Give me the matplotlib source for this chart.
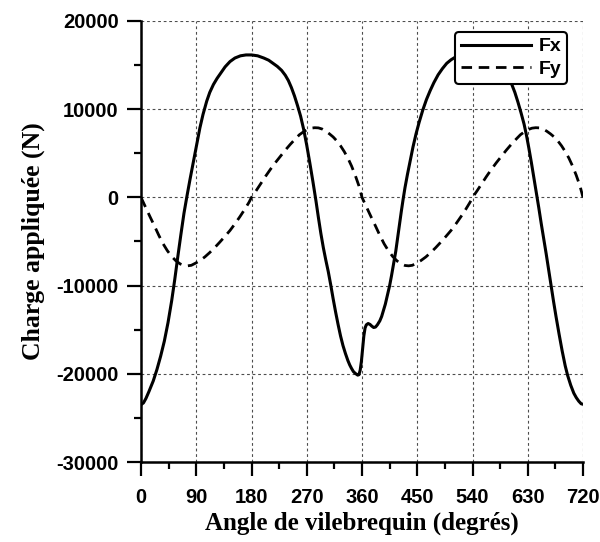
import numpy as np
import matplotlib
matplotlib.use("Agg")
import matplotlib.pyplot as plt

plt.rcParams["axes.unicode_minus"] = False

# valeurs (angle en degrés, charge en N)
angle_fx = [0, 4, 8, 13, 20, 26, 32, 38, 44, 50, 55, 60, 65, 70, 75, 80, 86, 91,
            96, 101, 107, 112, 118, 124, 130, 137, 145, 153, 162, 171, 180, 190,
            200, 208, 215, 222, 229, 235, 240, 245, 250, 255, 260, 265, 270, 275,
            280, 285, 289, 293, 297, 301, 305, 309, 313, 317, 321, 325, 329, 333,
            337, 340, 343, 346, 349, 351, 353, 355, 357, 359, 361, 363, 365, 367,
            370, 373, 376, 379, 382, 385, 389, 392, 395, 398, 401, 405, 408, 411,
            415, 418, 421, 424, 427, 430, 434, 438, 443, 448, 453, 459, 465, 471,
            477, 484, 491, 498, 505, 512, 520, 530, 540, 550, 560, 570, 580, 590,
            597, 604, 609, 614, 619, 624, 628, 632, 636, 640, 644, 648, 652, 656,
            660, 664, 668, 672, 676, 681, 686, 691, 695, 700, 705, 709, 713, 717,
            720]
fx = [-23500, -23300, -22800, -22000, -20800, -19500, -18000, -16300, -14200,
      -11700, -9300, -6700, -4200, -1800, 200, 2100, 4300, 6200, 7900, 9400,
      10900, 11900, 12800, 13500, 14100, 14800, 15400, 15800, 16050, 16150, 16150,
      16050, 15800, 15550, 15200, 14850, 14400, 13850, 13250, 12450, 11500,
      10400, 9200, 7700, 5900, 3900, 1800, -400, -2300, -4100, -5700, -7100,
      -8400, -9900, -11500, -13000, -14400, -15700, -16800, -17700, -18500,
      -19000, -19400, -19750, -19950, -20050, -20150, -20100, -19600, -18600,
      -17100, -15700, -14800, -14450, -14300, -14400, -14600, -14750, -14700,
      -14450, -14000, -13500, -12800, -12100, -11200, -10000, -8900, -7700,
      -6100, -4600, -3100, -1600, -200, 1100, 2600, 4000, 5700, 7200, 8500, 9900,
      11100, 12100, 13000, 13900, 14600, 15200, 15600, 15900, 16100, 16200, 16200,
      16100, 15900, 15600, 15100, 14400, 13700, 12800, 11900, 10800, 9600, 8300,
      7000, 5500, 3900, 2200, 500, -1200, -3000, -4700, -6400, -8200, -10000,
      -11800, -13500, -15500, -17400, -19100, -20200, -21300, -22200, -22700,
      -23100, -23400, -23450]

angle_fy = [0, 8, 15, 22, 29, 36, 43, 50, 57, 64, 70, 76, 82, 89, 96, 104, 112,
            120, 128, 137, 145, 153, 161, 169, 176, 180, 187, 195, 203, 211, 219,
            227, 235, 243, 251, 258, 265, 271, 277, 283, 289, 295, 301, 307, 313,
            319, 325, 331, 337, 343, 349, 355, 360, 368, 375, 382, 389, 396, 403,
            410, 417, 424, 430, 436, 442, 449, 456, 464, 472, 480, 488, 497, 505,
            513, 521, 529, 536, 540, 547, 555, 563, 571, 579, 587, 595, 603, 611,
            618, 625, 631, 637, 643, 649, 655, 661, 667, 673, 679, 685, 691, 697,
            703, 709, 715, 720]
fy = [0, -1200, -2240, -3250, -4300, -5260, -6050, -6700, -7200, -7550, -7720,
      -7760, -7700, -7450, -7160, -6750, -6250, -5700, -5100, -4400, -3750, -3000,
      -2200, -1350, -550, 0, 700, 1550, 2400, 3200, 3950, 4650, 5350, 6000, 6600,
      7100, 7450, 7700, 7850, 7900, 7880, 7750, 7500, 7200, 6850, 6400, 5850,
      5200, 4450, 3550, 2500, 1300, 0, -1200, -2240, -3250, -4300, -5260, -6050,
      -6700, -7200, -7550, -7720, -7760, -7700, -7450, -7160, -6750, -6250, -5700,
      -5100, -4400, -3750, -3000, -2200, -1350, -550, 0, 700, 1550, 2400, 3200,
      3950, 4650, 5350, 6000, 6600, 7100, 7450, 7700, 7850, 7900, 7880, 7750,
      7500, 7200, 6850, 6400, 5850, 5200, 4450, 3550, 2500, 1300, 0]

xticks = [0, 90, 180, 270, 360, 450, 540, 630, 720]
yticks = [-30000, -20000, -10000, 0, 10000, 20000]

fig = plt.figure(figsize=(6, 5.42), dpi=100)
ax = fig.add_axes([0.235, 0.1476, 0.7367, 0.8137])

ax.plot(angle_fx, fx, color="black", lw=2.2, label="Fx", zorder=3,
        solid_joinstyle="round")
ax.plot(angle_fy, fy, color="black", lw=2.0, ls=(0, (3.8, 2.4)), label="Fy",
        zorder=3)

ax.set_xlim(0, 720)
ax.set_ylim(-30000, 20000)
ax.set_xticks(xticks)
ax.set_yticks(yticks)
ax.set_xticks(np.arange(45, 720, 90), minor=True)
ax.set_yticks(np.arange(-25000, 20000, 10000), minor=True)

ax.grid(True, which="major", color="0.3", ls=(0, (2.5, 2.5)), lw=0.8)
ax.set_axisbelow(True)

ax.spines["top"].set_visible(False)
ax.spines["right"].set_visible(False)
ax.spines["left"].set_linewidth(1.8)
ax.spines["bottom"].set_linewidth(1.8)

ax.tick_params(which="major", direction="out", length=10, width=1.6)
ax.tick_params(which="minor", direction="out", length=5, width=1.6)
ax.tick_params(axis="y", which="major", pad=6)
ax.tick_params(axis="x", which="major", pad=9)
for lab in ax.get_xticklabels() + ax.get_yticklabels():
    lab.set_fontfamily("Liberation Sans")
    lab.set_fontweight("bold")
    lab.set_fontsize(14.5)

ax.set_xlabel("Angle de vilebrequin (degrés)", family="Liberation Serif",
              weight="bold", fontsize=18, labelpad=3)
ax.set_ylabel("Charge appliquée (N)", family="Liberation Serif",
              weight="bold", fontsize=18.5, labelpad=8)

leg = ax.legend(loc="upper right", bbox_to_anchor=(0.964, 0.975), borderaxespad=0,
                prop={"family": "Liberation Sans", "weight": "bold", "size": 14},
                handlelength=3.6, handletextpad=0.4, labelspacing=0.25,
                borderpad=0.3, fancybox=True, framealpha=1, edgecolor="black")
leg.get_frame().set_linewidth(1.5)

fig.savefig("out.png", dpi=100)
